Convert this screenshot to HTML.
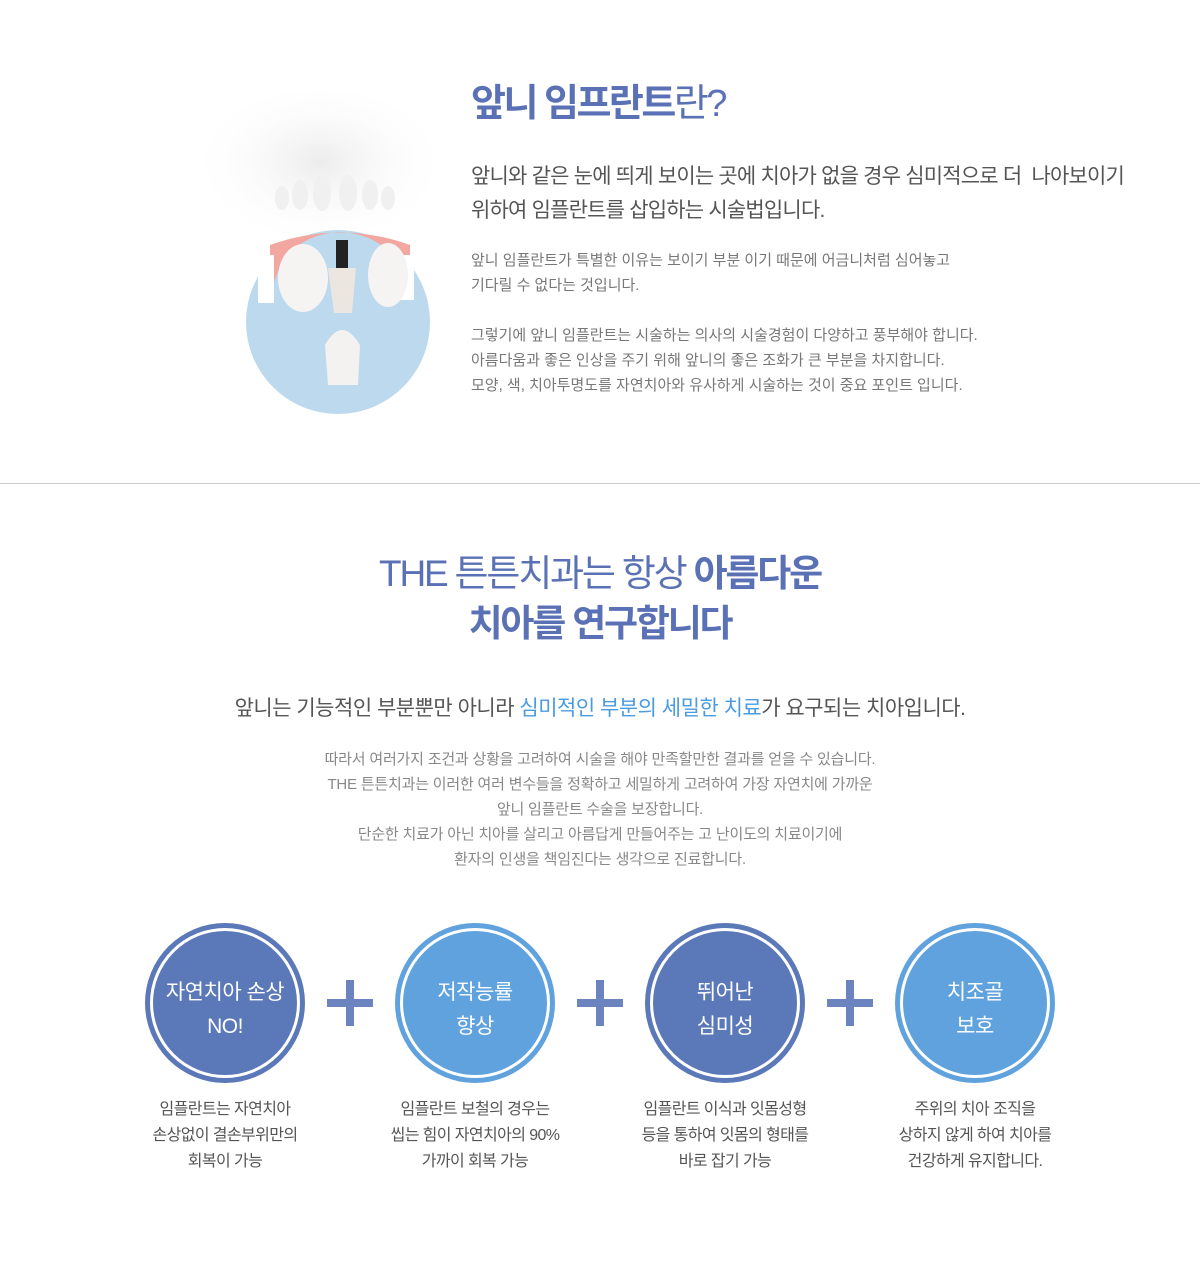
<!DOCTYPE html>
<html><head><meta charset="utf-8"><style>
*{margin:0;padding:0;box-sizing:border-box}
body{width:1200px;height:1271px;background:#fff;font-family:"Liberation Sans","Noto Sans CJK KR",sans-serif;position:relative;overflow:hidden;color:#666}
.a{position:absolute;white-space:nowrap}
.c{position:absolute;width:160px;height:160px;border-radius:50%;display:flex;align-items:center;justify-content:center;text-align:center;color:#fff;font-size:21px;line-height:34px;padding-top:14px;letter-spacing:-0.5px}
.c::after{content:"";position:absolute;left:5px;top:5px;right:5px;bottom:5px;border:3px solid #fff;border-radius:50%}
.d{background:#5b78b9}.l{background:#60a2de}
.p{position:absolute;width:46px;height:46px}
.p::before{content:"";position:absolute;left:0;top:19px;width:46px;height:8px;background:#6b84bf}
.p::after{content:"";position:absolute;left:19px;top:0;width:8px;height:46px;background:#6b84bf}
.t{position:absolute;width:240px;text-align:center;font-size:16px;line-height:26px;color:#555;letter-spacing:-0.6px}
</style></head><body>
<svg class="a" style="left:0;top:60px" width="460" height="370">
<defs><radialGradient id="g" cx="0.5" cy="0.45" r="0.55"><stop offset="0" stop-color="#ececec"/><stop offset="1" stop-color="#fff" stop-opacity="0"/></radialGradient></defs>
<ellipse cx="320" cy="110" rx="120" ry="80" fill="url(#g)"/>
<g fill="#f0f0f0"><ellipse cx="322" cy="133" rx="9" ry="18"/><ellipse cx="348" cy="133" rx="9" ry="18"/><ellipse cx="300" cy="135" rx="8" ry="15"/><ellipse cx="370" cy="135" rx="8" ry="15"/><ellipse cx="282" cy="138" rx="7" ry="12"/><ellipse cx="388" cy="138" rx="7" ry="12"/></g>
<circle cx="338" cy="262" r="92" fill="#bcd9ee"/>
<path d="M270 240 Q280 175 340 172 Q400 175 410 240 L410 185 Q340 160 270 185Z" fill="#f2a7a0"/>
<rect x="258" y="195" width="16" height="48" fill="#fff"/>
<rect x="400" y="195" width="14" height="45" fill="#fff"/>
<ellipse cx="303" cy="218" rx="25" ry="34" fill="#f5f4f2"/>
<ellipse cx="388" cy="215" rx="20" ry="32" fill="#f5f4f2"/>
<rect x="336" y="180" width="12" height="30" fill="#222"/>
<path d="M328 208 L356 208 L352 253 L334 253Z" fill="#ece6e1"/>
<path d="M325 285 Q342 255 360 285 L358 325 L328 325Z" fill="#f3f2f0"/>
</svg>
<div class="a" style="left:471px;top:72px;font-size:38px;color:#5a72b5;font-weight:bold;letter-spacing:-2.5px">앞니 임프란트<span style="font-weight:normal">란?</span></div>
<div class="a" style="left:471px;top:160px;font-size:21px;line-height:34px;color:#555;letter-spacing:-0.8px">앞니와 같은 눈에 띄게 보이는 곳에 치아가 없을 경우 심미적으로 더&nbsp; 나아보이기<br>위하여 임플란트를 삽입하는 시술법입니다.</div>
<div class="a" style="left:471px;top:248px;font-size:15px;line-height:25px;color:#777;letter-spacing:0">앞니 임플란트가 특별한 이유는 보이기 부분 이기 때문에 어금니처럼 심어놓고<br>기다릴 수 없다는 것입니다.<br><br>그렇기에 앞니 임플란트는 시술하는 의사의 시술경험이 다양하고 풍부해야 합니다.<br>아름다움과 좋은 인상을 주기 위해 앞니의 좋은 조화가 큰 부분을 차지합니다.<br>모양, 색, 치아투명도를 자연치아와 유사하게 시술하는 것이 중요 포인트 입니다.</div>
<div class="a" style="left:0;top:483px;width:1200px;height:1px;background:#ccc"></div>
<div class="a" style="left:0;top:549px;width:1200px;text-align:center;font-size:37px;line-height:50px;color:#5a72b5;letter-spacing:-2.2px">THE 튼튼치과는 항상 <b>아름다운</b><br><b>치아를 연구합니다</b></div>
<div class="a" style="left:0;top:692px;width:1200px;text-align:center;font-size:21px;color:#555;letter-spacing:-0.5px">앞니는 기능적인 부분뿐만 아니라 <span style="color:#4a9be0">심미적인 부분의 세밀한 치료</span>가 요구되는 치아입니다.</div>
<div class="a" style="left:0;top:747px;width:1200px;text-align:center;font-size:15px;line-height:25px;color:#888;letter-spacing:-0.2px">따라서 여러가지 조건과 상황을 고려하여 시술을 해야 만족할만한 결과를 얻을 수 있습니다.<br>THE 튼튼치과는 이러한 여러 변수들을 정확하고 세밀하게 고려하여 가장 자연치에 가까운<br>앞니 임플란트 수술을 보장합니다.<br>단순한 치료가 아닌 치아를 살리고 아름답게 만들어주는 고 난이도의 치료이기에<br>환자의 인생을 책임진다는 생각으로 진료합니다.</div>
<div class="c d" style="left:145px;top:923px">자연치아 손상<br>NO!</div>
<div class="c l" style="left:395px;top:923px">저작능률<br>향상</div>
<div class="c d" style="left:645px;top:923px">뛰어난<br>심미성</div>
<div class="c l" style="left:895px;top:923px">치조골<br>보호</div>
<div class="p" style="left:327px;top:980px"></div>
<div class="p" style="left:577px;top:980px"></div>
<div class="p" style="left:827px;top:980px"></div>
<div class="t" style="left:105px;top:1097px">임플란트는 자연치아<br>손상없이 결손부위만의<br>회복이 가능</div>
<div class="t" style="left:355px;top:1097px">임플란트 보철의 경우는<br>씹는 힘이 자연치아의 90%<br>가까이 회복 가능</div>
<div class="t" style="left:605px;top:1097px">임플란트 이식과 잇몸성형<br>등을 통하여 잇몸의 형태를<br>바로 잡기 가능</div>
<div class="t" style="left:855px;top:1097px">주위의 치아 조직을<br>상하지 않게 하여 치아를<br>건강하게 유지합니다.</div>
</body></html>
